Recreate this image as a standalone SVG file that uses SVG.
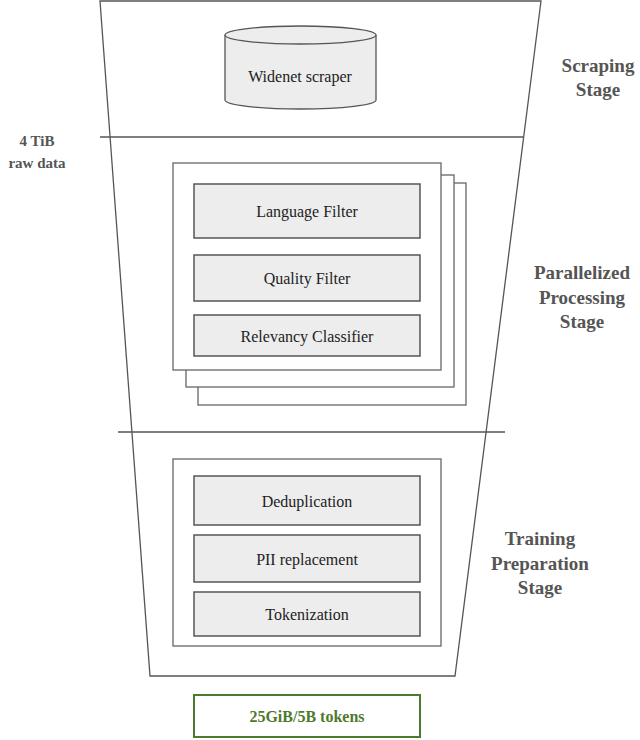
<svg xmlns="http://www.w3.org/2000/svg" width="640" height="740" viewBox="0 0 640 740">
<style>
text{font-family:"Liberation Serif","DejaVu Serif",serif;text-anchor:middle}
.lbl{font-size:16px;fill:#222}
.stage{font-size:19px;font-weight:bold;fill:#555}
.box{fill:#ededed;stroke:#555;stroke-width:1.5}
.frame{fill:#fff;stroke:#666;stroke-width:1.3}
.line{fill:none;stroke:#555;stroke-width:1.3}
</style>
<rect width="640" height="740" fill="#fff"/>
<g id="funnel">
<path class="line" d="M100,1 L541,1 L455,676 L150,676 Z"/>
<line class="line" x1="100" y1="137" x2="523" y2="137"/>
<line class="line" x1="118" y1="432" x2="505" y2="432"/>
</g>
<g id="scraper">
<path d="M225,35 L225,100 A75.5,9 0 0 0 376,100 L376,35" fill="#ededed" stroke="#555" stroke-width="1.3"/>
<ellipse cx="300.5" cy="35" rx="75.5" ry="9" fill="#ededed" stroke="#555" stroke-width="1.3"/>
<text class="lbl" x="300" y="82">Widenet scraper</text>
</g>
<g id="parallel">
<rect class="frame" x="198" y="183" width="268" height="222"/>
<rect class="frame" x="186" y="175" width="268" height="212"/>
<rect class="frame" x="173" y="163" width="268" height="207"/>
</g>
<g id="language"><rect class="box" x="194" y="184" width="226" height="54"/><text class="lbl" x="307" y="217">Language Filter</text></g>
<g id="quality"><rect class="box" x="194" y="255" width="226" height="46"/><text class="lbl" x="307" y="284">Quality Filter</text></g>
<g id="relevancy"><rect class="box" x="194" y="315" width="226" height="41"/><text class="lbl" x="307" y="342">Relevancy Classifier</text></g>
<g id="training"><rect class="frame" x="173" y="459" width="268" height="187"/></g>
<g id="dedup"><rect class="box" x="194" y="476" width="226" height="49"/><text class="lbl" x="307" y="507">Deduplication</text></g>
<g id="pii"><rect class="box" x="194" y="535" width="226" height="47"/><text class="lbl" x="307" y="565">PII replacement</text></g>
<g id="token"><rect class="box" x="194" y="592" width="226" height="44"/><text class="lbl" x="307" y="620">Tokenization</text></g>
<g id="output"><rect x="194" y="695" width="226" height="42" fill="#fff" stroke="#4e7a2e" stroke-width="2"/><text x="307" y="722" style="font-size:16px;font-weight:bold;fill:#4e7a2e">25GiB/5B tokens</text></g>
<g id="labels">
<text class="stage" x="598" y="72">Scraping</text>
<text class="stage" x="598" y="96">Stage</text>
<text class="stage" x="582" y="279">Parallelized</text>
<text class="stage" x="582" y="304">Processing</text>
<text class="stage" x="582" y="328">Stage</text>
<text class="stage" x="540" y="545">Training</text>
<text class="stage" x="540" y="570">Preparation</text>
<text class="stage" x="540" y="594">Stage</text>
<text class="stage" x="37" y="146" style="font-size:15px">4 TiB</text>
<text class="stage" x="37" y="168" style="font-size:15px">raw data</text>
</g>
<g id="connectors"></g>
</svg>
